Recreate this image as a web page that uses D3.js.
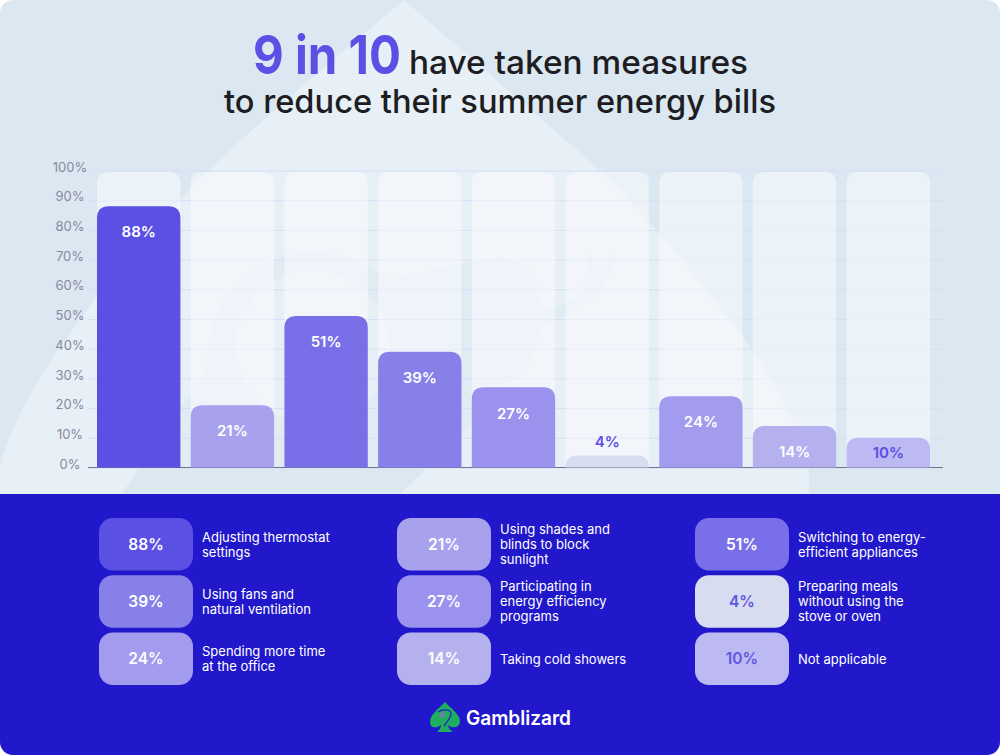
<!DOCTYPE html>
<html>
<head>
<meta charset="utf-8">
<style>
  html, body { margin: 0; padding: 0; background: #fff; }
  svg { display: block; font-family: Inter, "Noto Sans", sans-serif; }
</style>
</head>
<body>
<div id="chart"></div>
<script src="https://cdn.jsdelivr.net/npm/d3@7"></script>
<script>
// Data
const shortNames = ['thermostat', 'shades', 'appliances', 'fans', 'programs', 'meals', 'office', 'showers', 'none'];
const values = [88, 21, 51, 39, 27, 4, 24, 14, 10];
const legendLabels = [
  ['Adjusting thermostat', 'settings'],
  ['Using shades and', 'blinds to block', 'sunlight'],
  ['Switching to energy-', 'efficient appliances'],
  ['Using fans and', 'natural ventilation'],
  ['Participating in', 'energy efficiency', 'programs'],
  ['Preparing meals', 'without using the', 'stove or oven'],
  ['Spending more time', 'at the office'],
  ['Taking cold showers'],
  ['Not applicable']
];
const yTicks = [0, 10, 20, 30, 40, 50, 60, 70, 80, 90, 100];

const width = 1000, height = 755;
const margin = { top: 170.5, right: 70, bottom: 287.5, left: 97 };
const purple = '#5a50e4';

const svg = d3.select('#chart').append('svg')
  .attr('width', width)
  .attr('height', height)
  .attr('viewBox', `0 0 ${width} ${height}`);

svg.append('clipPath').attr('id', 'card')
  .append('rect').attr('width', width).attr('height', height).attr('rx', 13);

const root = svg.append('g').attr('clip-path', 'url(#card)');

// Background and the big spade watermark
root.append('rect').attr('width', width).attr('height', 494).attr('fill', '#dbe8f2');
root.append('path')
  .attr('fill', '#e7eff7')
  .attr('d', 'M404 0 L577 150 C 640 205 700 280 753 350 C 780 390 800 430 809 467 L809 494 L0 494 L0 467 C 15 410 50 360 87 310 C 110 275 150 235 180 200 C 220 155 320 70 404 0 Z');
// lizard inside the spade, faint, with its lighter round middle
root.append('path')
  .attr('fill', '#dbe8f2')
  .attr('fill-opacity', 0.5)
  .attr('fill-rule', 'evenodd')
  .attr('d', 'M122 494 C 140 465 160 435 180 407 C 195 390 205 385 207 363 C 207 300 255 252 310 252 C 340 252 365 262 388 280 C 430 270 470 262 500 258 C 520 260 533 268 535 280 L542 310 C 560 308 578 298 583 290 C 587 275 587 260 587 248 L597 265 L616 252 C 610 275 605 285 600 293 C 585 305 563 317 540 327 C 535 345 530 358 527 367 C 518 375 510 382 500 387 L472 423 L400 494 Z M313 270 C 270 270 236 305 236 347 C 236 390 270 424 313 424 C 356 424 390 390 390 347 C 390 305 356 270 313 270 Z');
// the stem of the lizard is solid below the baseline
root.append('path')
  .attr('fill', '#dbe8f2')
  .attr('d', 'M122 494 L140 467 L428 467 L400 494 Z');

// Scales
const x = d3.scaleBand()
  .domain(shortNames)
  .range([margin.left, width - margin.right])
  .paddingInner(0.11)
  .paddingOuter(0);

const y = d3.scaleLinear()
  .domain([0, 100])
  .range([height - margin.bottom, margin.top]);

// Bar and tile colour follows the value
const color = d3.scaleLinear()
  .domain([4, 10, 14, 24, 27, 39, 51, 88])
  .range(['#d8dcf0', '#bdb9f2', '#b5b1ef', '#a29bee', '#9a92ec', '#8780e9', '#7970e9', purple]);

const darkLabel = v => v <= 10;

// Round only the top corners of a bar
const topRounded = (x0, y0, w, h, r) => {
  const rr = Math.min(r, h);
  return `M${x0} ${y0 + h} V${y0 + rr} Q${x0} ${y0} ${x0 + rr} ${y0} H${x0 + w - rr} Q${x0 + w} ${y0} ${x0 + w} ${y0 + rr} V${y0 + h} Z`;
};

// Y axis with the gridlines
const axisLeft = d3.axisLeft(y)
  .tickValues(yTicks)
  .tickFormat(d => d + '%')
  .tickSize(-(943 - 88));

const yAxis = root.append('g')
  .attr('transform', 'translate(88,0)')
  .call(axisLeft);

yAxis.select('.domain').remove();
yAxis.selectAll('.tick line').attr('stroke', '#d8ddf6').attr('stroke-width', 1);
yAxis.selectAll('.tick text')
  .attr('x', -18)
  .attr('y', -3.5)
  .attr('text-anchor', 'middle')
  .attr('font-size', 13)
  .attr('fill', '#88899f')
  .attr('font-family', 'Inter, sans-serif');

// Pale tracks behind the bars
root.append('g').selectAll('path')
  .data(shortNames)
  .enter()
  .append('path')
  .attr('fill', '#fff')
  .attr('fill-opacity', 0.45)
  .attr('d', d => topRounded(x(d), y(100) + 1.5, x.bandwidth(), y(0) - y(100) - 1.5, 12));

// Baseline
root.append('line')
  .attr('x1', 88).attr('x2', 943)
  .attr('y1', y(0)).attr('y2', y(0))
  .attr('stroke', '#73748f')
  .attr('stroke-width', 1);

// Bars
root.append('g').selectAll('path')
  .data(values)
  .enter()
  .append('path')
  .attr('fill', d => color(d))
  .attr('d', (d, i) => topRounded(x(shortNames[i]), y(d), x.bandwidth(), y(0) - y(d), 12));

// Bar value labels
root.append('g').selectAll('text')
  .data(values)
  .enter()
  .append('text')
  .attr('x', (d, i) => x(shortNames[i]) + x.bandwidth() / 2)
  .attr('y', d => d <= 4 ? y(d) - 14 : Math.min(y(d) + 26, 453))
  .attr('dy', '0.35em')
  .attr('text-anchor', 'middle')
  .attr('font-size', 15)
  .attr('font-weight', 600)
  .attr('fill', d => darkLabel(d) ? purple : '#fff')
  .text(d => d + '%');

// Title
root.append('text')
  .attr('x', 253).attr('y', 74)
  .attr('font-size', 54)
  .attr('font-weight', 700)
  .attr('fill', purple)
  .attr('textLength', 148)
  .attr('lengthAdjust', 'spacingAndGlyphs')
  .text('9 in 10');
root.append('text')
  .attr('x', 409).attr('y', 74)
  .attr('font-size', 33)
  .attr('font-weight', 500)
  .attr('fill', '#1d1d22')
  .attr('textLength', 339)
  .attr('lengthAdjust', 'spacingAndGlyphs')
  .text('have taken measures');
root.append('text')
  .attr('x', 224).attr('y', 113)
  .attr('font-size', 33)
  .attr('font-weight', 500)
  .attr('fill', '#1d1d22')
  .attr('textLength', 552)
  .attr('lengthAdjust', 'spacingAndGlyphs')
  .text('to reduce their summer energy bills');

// Dark panel with the legend
root.append('rect')
  .attr('y', 494).attr('width', width).attr('height', height - 494)
  .attr('fill', '#2118cc');

const colX = d3.scaleLinear().domain([0, 2]).range([99, 695]);
const rowY = d3.scaleLinear().domain([0, 2]).range([518, 632.5]);

const legendItem = root.append('g').selectAll('g')
  .data(values)
  .enter()
  .append('g')
  .attr('transform', (d, i) => `translate(${colX(i % 3)},${rowY(Math.floor(i / 3))})`);

legendItem.append('rect')
  .attr('width', 94).attr('height', 52.5).attr('rx', 14)
  .attr('fill', d => color(d));

legendItem.append('text')
  .attr('x', 47).attr('y', 26.5)
  .attr('dy', '0.35em')
  .attr('text-anchor', 'middle')
  .attr('font-size', 15.5)
  .attr('font-weight', 600)
  .attr('fill', d => darkLabel(d) ? '#5f56e0' : '#fff')
  .text(d => d + '%');

legendItem.append('g').each(function (d, i) {
  const lines = legendLabels[i];
  d3.select(this).selectAll('text')
    .data(lines)
    .enter()
    .append('text')
    .attr('x', 103)
    .attr('y', (l, j) => 26.5 + (j - (lines.length - 1) / 2) * 15)
    .attr('dy', '0.35em')
    .attr('font-size', 13)
    .attr('font-weight', 400)
    .attr('fill', '#fff')
    .text(l => l);
});

// Logo
const logo = root.append('g');
logo.append('path')
  .attr('fill', '#1fae5f')
  .attr('d', 'M445 702 C 440 708 430 714 430 722 C 430 728 436 729 441 725 C 441 728 439 730 437 732 L453 732 C 450 730 448 728 448 725 C 452 729 460 728 460 721 C 460 714 450 708 445 702 Z');
logo.append('path')
  .attr('fill', 'none')
  .attr('stroke', '#2118cc')
  .attr('stroke-width', 1.2)
  .attr('d', 'M438 712 C 444 708 452 710 451 714 C 450 719 447 722 444 726');
logo.append('circle')
  .attr('cx', 442).attr('cy', 715).attr('r', 2.4)
  .attr('fill', '#7f78b8');
logo.append('text')
  .attr('x', 466).attr('y', 724.5)
  .attr('font-size', 19.5)
  .attr('font-weight', 600)
  .attr('fill', '#fff')
  .attr('textLength', 105)
  .attr('lengthAdjust', 'spacingAndGlyphs')
  .text('Gamblizard');
</script>
</body>
</html>
